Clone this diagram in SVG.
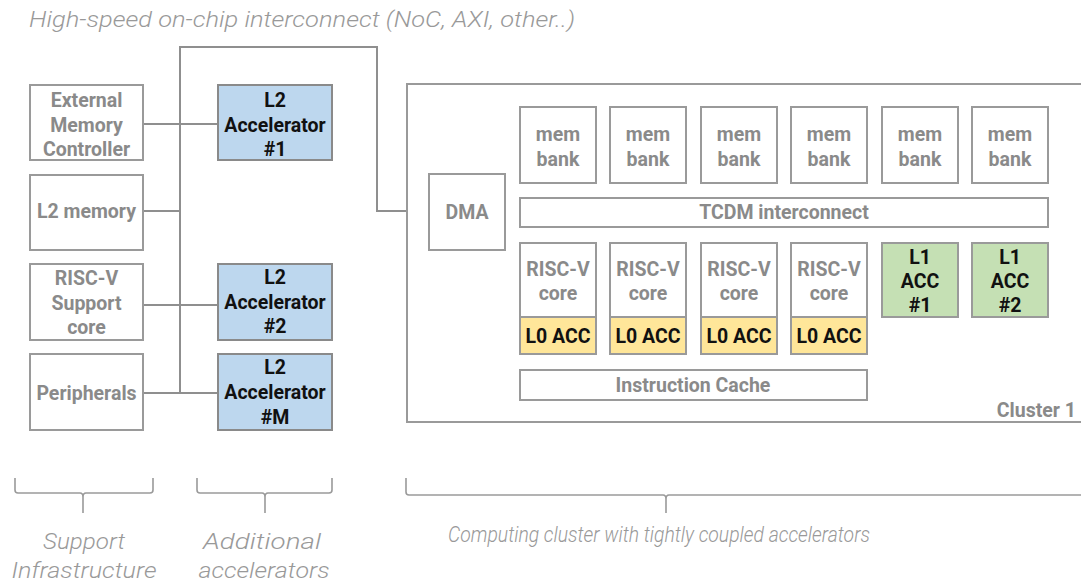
<svg xmlns="http://www.w3.org/2000/svg" width="1081" height="584" viewBox="0 0 1081 584">
<style>
.box{fill:#fff;stroke:#9a9a9a;stroke-width:2}
.blue{fill:#bdd7ee;stroke:#8a8a8a;stroke-width:2}
.yel{fill:#ffe699;stroke:#9a9a9a;stroke-width:2}
.grn{fill:#c5e0b4;stroke:#9a9a9a;stroke-width:2}
.t{font-family:Roboto,"Liberation Sans",sans-serif;font-weight:700;font-size:19.5px;fill:#8a8a8a;text-anchor:middle}
.k{fill:#111}
.it{font-family:Roboto,"Liberation Sans",sans-serif;font-style:italic;font-weight:300;font-size:22px;fill:#999}
.bus{fill:none;stroke:#8f8f8f;stroke-width:2}
.lt{fill:none;stroke:#d4d4d4;stroke-width:2}
.br{fill:none;stroke:#9a9a9a;stroke-width:1.6}
</style>
<rect width="1081" height="584" fill="#fff"/>
<text class="it" x="29" y="27" textLength="546" lengthAdjust="spacingAndGlyphs">High-speed on-chip interconnect (NoC, AXI, other..)</text>

<g id="connectors">
<path class="bus" d="M180,393 V47 H377 V211 H407"/>
<path class="bus" d="M143,124 H218 M143,211 H180 M143,305 H218 M143,393 H218"/>
<path class="lt" d="M408,211 H429 M505,211 H520 M418,211 V384 H520"/>
<path class="lt" d="M558,183 V198 M648,183 V198 M739,183 V198 M829,183 V198 M920,183 V198 M1010,183 V198"/>
<path class="lt" d="M558,227 V243 M648,227 V243 M739,227 V243 M829,227 V243 M920,227 V243 M1010,227 V243"/>
<path class="lt" d="M558,354 V370 M648,354 V370 M739,354 V370 M829,354 V370"/>
</g>

<g id="emc"><rect class="box" x="30" y="85" width="113" height="75"/>
<text class="t" x="86.5" y="107">External</text><text class="t" x="86.5" y="131.5">Memory</text><text class="t" x="86.5" y="156">Controller</text></g>
<g id="l2mem"><rect class="box" x="30" y="175" width="113" height="75"/><text class="t" x="86.5" y="218">L2 memory</text></g>
<g id="riscv-support"><rect class="box" x="30" y="264" width="113" height="76"/>
<text class="t" x="86.5" y="285">RISC-V</text><text class="t" x="86.5" y="309.5">Support</text><text class="t" x="86.5" y="334">core</text></g>
<g id="periph"><rect class="box" x="30" y="354" width="113" height="76"/><text class="t" x="86.5" y="400">Peripherals</text></g>

<g id="l2acc1"><rect class="blue" x="218" y="85" width="114" height="75"/>
<text class="t k" x="275" y="107">L2</text><text class="t k" x="275" y="131.5">Accelerator</text><text class="t k" x="275" y="156">#1</text></g>
<g id="l2acc2"><rect class="blue" x="218" y="264" width="114" height="76"/>
<text class="t k" x="275" y="284">L2</text><text class="t k" x="275" y="308.5">Accelerator</text><text class="t k" x="275" y="333">#2</text></g>
<g id="l2accM"><rect class="blue" x="218" y="354" width="114" height="76"/>
<text class="t k" x="275" y="374">L2</text><text class="t k" x="275" y="399">Accelerator</text><text class="t k" x="275" y="424">#M</text></g>

<g id="cluster"><rect class="box" x="407" y="84" width="690" height="338"/>
<text class="t" x="1076" y="417" style="text-anchor:end">Cluster 1</text></g>

<g id="dma"><rect class="box" x="429" y="174" width="76" height="76"/><text class="t" x="467" y="219">DMA</text></g>

<g id="membanks">
<rect class="box" x="520" y="107" width="76" height="76"/><text class="t" x="558" y="141">mem</text><text class="t" x="558" y="166">bank</text>
<rect class="box" x="610" y="107" width="76" height="76"/><text class="t" x="648" y="141">mem</text><text class="t" x="648" y="166">bank</text>
<rect class="box" x="701" y="107" width="76" height="76"/><text class="t" x="739" y="141">mem</text><text class="t" x="739" y="166">bank</text>
<rect class="box" x="791" y="107" width="76" height="76"/><text class="t" x="829" y="141">mem</text><text class="t" x="829" y="166">bank</text>
<rect class="box" x="882" y="107" width="76" height="76"/><text class="t" x="920" y="141">mem</text><text class="t" x="920" y="166">bank</text>
<rect class="box" x="972" y="107" width="76" height="76"/><text class="t" x="1010" y="141">mem</text><text class="t" x="1010" y="166">bank</text>
</g>

<g id="tcdm"><rect class="box" x="520" y="198" width="528" height="29"/><text class="t" x="784" y="219">TCDM interconnect</text></g>

<g id="cores">
<rect class="box" x="520" y="243" width="76" height="74"/><text class="t" x="558" y="276">RISC-V</text><text class="t" x="558" y="300">core</text>
<rect class="yel" x="520" y="317" width="76" height="37"/><text class="t k" x="558" y="343">L0 ACC</text>
<rect class="box" x="610" y="243" width="76" height="74"/><text class="t" x="648" y="276">RISC-V</text><text class="t" x="648" y="300">core</text>
<rect class="yel" x="610" y="317" width="76" height="37"/><text class="t k" x="648" y="343">L0 ACC</text>
<rect class="box" x="701" y="243" width="76" height="74"/><text class="t" x="739" y="276">RISC-V</text><text class="t" x="739" y="300">core</text>
<rect class="yel" x="701" y="317" width="76" height="37"/><text class="t k" x="739" y="343">L0 ACC</text>
<rect class="box" x="791" y="243" width="76" height="74"/><text class="t" x="829" y="276">RISC-V</text><text class="t" x="829" y="300">core</text>
<rect class="yel" x="791" y="317" width="76" height="37"/><text class="t k" x="829" y="343">L0 ACC</text>
</g>

<g id="l1acc1"><rect class="grn" x="882" y="243" width="76" height="74"/>
<text class="t k" x="920" y="264">L1</text><text class="t k" x="920" y="288">ACC</text><text class="t k" x="920" y="312">#1</text></g>
<g id="l1acc2"><rect class="grn" x="972" y="243" width="76" height="74"/>
<text class="t k" x="1010" y="264">L1</text><text class="t k" x="1010" y="288">ACC</text><text class="t k" x="1010" y="312">#2</text></g>

<g id="icache"><rect class="box" x="520" y="370" width="347" height="30"/><text class="t" x="693" y="392">Instruction Cache</text></g>

<g id="braces">
<path class="br" d="M15,478 V490 Q15,493 18,493 H80 Q83,493 83,497 V513 M83,497 Q83,493 86,493 H150 Q153,493 153,490 V478"/>
<path class="br" d="M197,478 V490 Q197,493 200,493 H262 Q265,493 265,497 V513 M265,497 Q265,493 268,493 H329 Q332,493 332,490 V478"/>
<path class="br" d="M406,478 V492 Q406,495 409,495 H663 Q666,495 666,499 V513 M666,499 Q666,495 669,495 H1090"/>
</g>
<g id="labels">
<text class="it" x="84" y="549" text-anchor="middle" textLength="82" lengthAdjust="spacingAndGlyphs">Support</text>
<text class="it" x="84" y="578" text-anchor="middle" textLength="145" lengthAdjust="spacingAndGlyphs">Infrastructure</text>
<text class="it" x="262" y="549" text-anchor="middle" textLength="118" lengthAdjust="spacingAndGlyphs">Additional</text>
<text class="it" x="264" y="578" text-anchor="middle" textLength="131" lengthAdjust="spacingAndGlyphs">accelerators</text>
<text class="it" x="659" y="542" text-anchor="middle" textLength="422" lengthAdjust="spacingAndGlyphs">Computing cluster with tightly coupled accelerators</text>
</g>
</svg>
